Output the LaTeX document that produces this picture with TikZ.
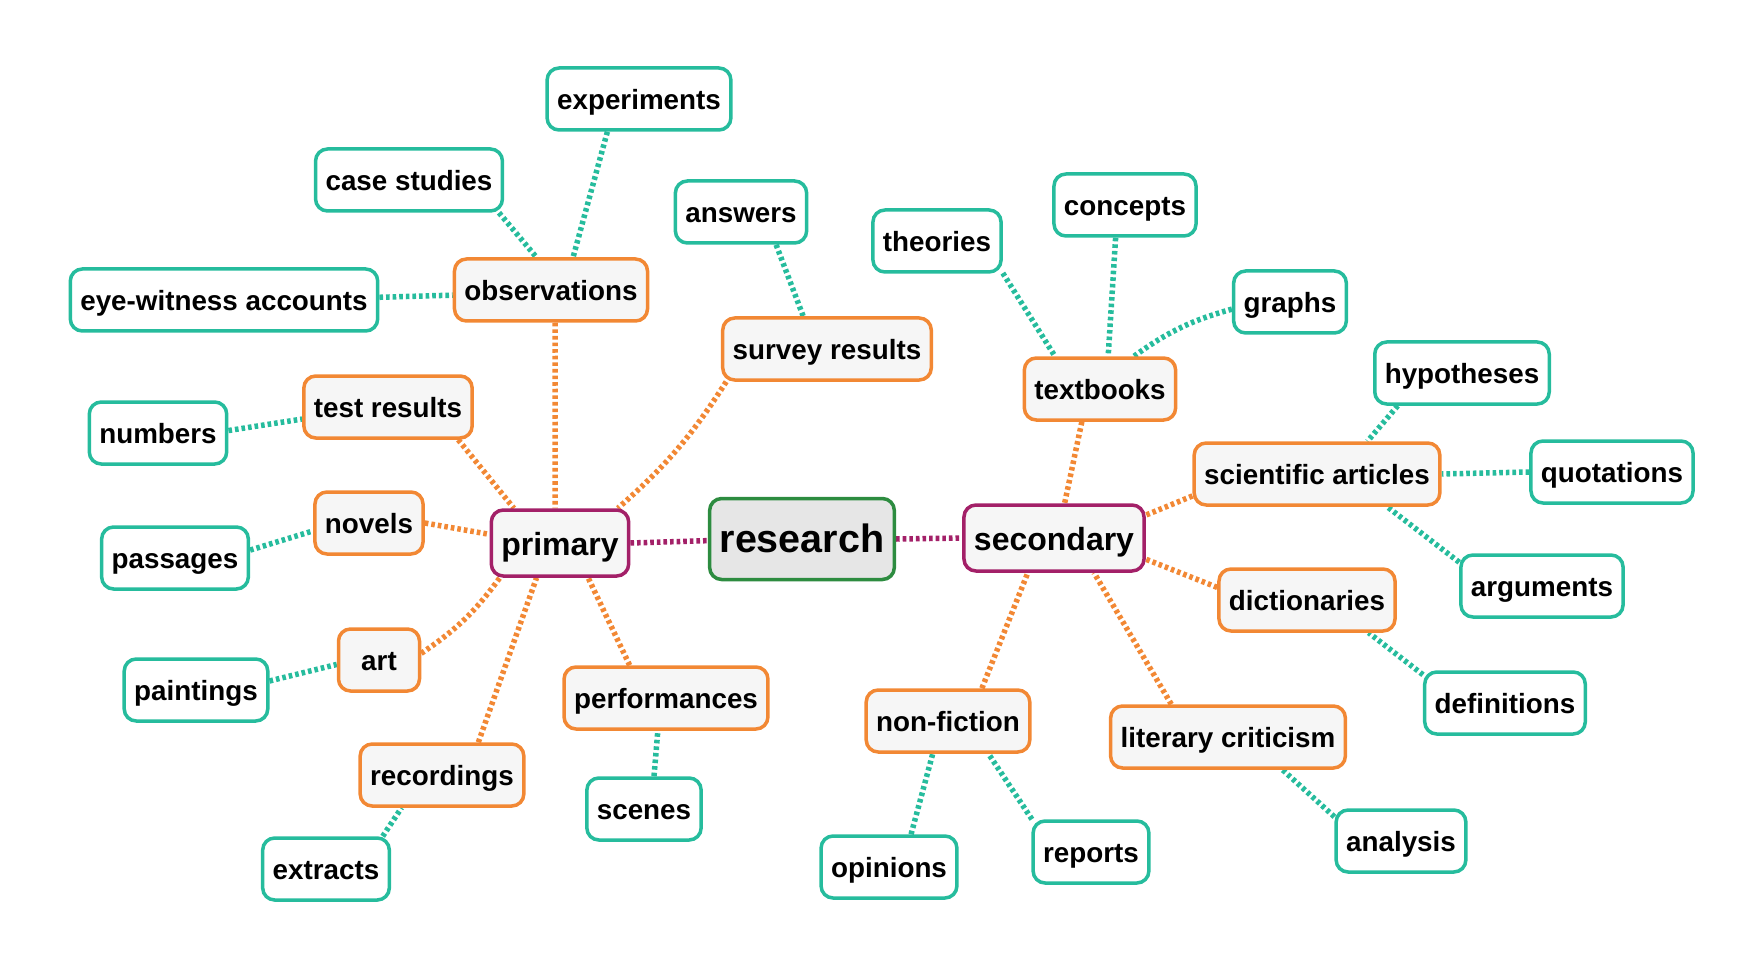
\documentclass[tikz,border=0pt]{standalone}
\usepackage{fontspec}
\setmainfont{Liberation Sans}
\usetikzlibrary{backgrounds}
\definecolor{cteal}{RGB}{38,188,157}
\definecolor{corange}{RGB}{242,136,52}
\definecolor{cpurple}{RGB}{163,32,104}
\definecolor{cgreen}{RGB}{45,140,64}
\definecolor{cfillA}{RGB}{246,246,246}
\definecolor{cfillR}{RGB}{230,230,230}
\tikzset{
  box/.style={rounded corners=12pt, line width=3.5pt, inner xsep=10pt, inner ysep=0pt,
    minimum height=62pt, text height=23.5pt, text depth=2.5pt,
    font=\bfseries\fontsize{27.8}{32}\selectfont},
  leaf/.style={box, draw=cteal, fill=white},
  mid/.style={box, draw=corange, fill=cfillA, minimum width=81pt},
  top/.style={box, draw=cpurple, fill=cfillA, minimum height=66pt, text height=27.5pt, text depth=2.5pt,
    font=\bfseries\fontsize{32}{36}\selectfont},
  root/.style={box, draw=cgreen, fill=cfillR, minimum height=81pt, text height=32.2pt, text depth=4.8pt,
    font=\bfseries\fontsize{39.5}{44}\selectfont},
  lnk/.style={line width=5.5pt, dash pattern=on 3.6pt off 3pt},
  lteal/.style={lnk, draw=cteal},
  lorange/.style={lnk, draw=corange},
  lpurple/.style={lnk, draw=cpurple},
}
\begin{document}
\begin{tikzpicture}[x=1pt,y=1pt]
\useasboundingbox (0,0) rectangle (1762,-968);
% root and level 1
\node[root] (res) at (802,-539) {research};
\node[top] (pri) at (560,-543) {primary};
\node[top] (sec) at (1054,-538) {secondary};
% primary branch
\node[mid] (obs) at (551,-290) {observations};
\node[leaf] (exp) at (639,-99) {experiments};
\node[leaf] (cs) at (409,-180) {case studies};
\node[leaf] (ew) at (224,-300) {eye-witness accounts};
\node[mid] (sr) at (827,-349) {survey results};
\node[leaf] (ans) at (741,-212) {answers};
\node[mid] (tr) at (388,-407) {test results};
\node[leaf] (num) at (158,-433) {numbers};
\node[mid] (nov) at (369,-523) {novels};
\node[leaf] (pas) at (175,-558) {passages};
\node[mid] (art) at (379,-660) {art};
\node[leaf] (pai) at (196,-690) {paintings};
\node[mid] (rec) at (442,-775) {recordings};
\node[leaf] (ext) at (326,-869) {extracts};
\node[mid] (perf) at (666,-698) {performances};
\node[leaf] (sce) at (644,-809) {scenes};
% secondary branch
\node[mid] (tb) at (1100,-389) {textbooks};
\node[leaf] (the) at (937,-241) {theories};
\node[leaf] (con) at (1125,-205) {concepts};
\node[leaf] (gra) at (1290,-302) {graphs};
\node[mid] (sa) at (1317,-474) {scientific articles};
\node[leaf] (hyp) at (1462,-373) {hypotheses};
\node[leaf] (quo) at (1612,-472) {quotations};
\node[leaf] (arg) at (1542,-586) {arguments};
\node[mid] (dic) at (1307,-600) {dictionaries};
\node[leaf] (def) at (1505,-703) {definitions};
\node[mid] (lc) at (1228,-737) {literary criticism};
\node[leaf] (ana) at (1401,-841) {analysis};
\node[mid] (nf) at (948,-721) {non-fiction};
\node[leaf] (opi) at (889,-867) {opinions};
\node[leaf] (rep) at (1091,-852) {reports};
\begin{scope}[on background layer]
% root links
\draw[lpurple] (pri.east) -- (res.181);
\draw[lpurple] (res.east) -- (sec.west);
% primary links
\draw[lorange] (obs.-83) -- (pri.98);
\draw[lorange] (sr.198) to[bend left=8] (pri.31);
\draw[lorange] (tr.-25.6) -- (pri.143.7);
\draw[lorange] (nov.0) -- (pri.173);
\draw[lorange] (art.9.7) to[bend right=10] (pri.210.8);
\draw[lorange] (rec.42.6) -- (pri.236.7);
\draw[lorange] (perf.138) -- (pri.-51.3);
\draw[lteal] (exp.-134) -- (obs.56);
\draw[lteal] (cs.-20.6) -- (obs.114.8);
\draw[lteal] (ew.1) -- (obs.183);
\draw[lteal] (ans.-43) -- (sr.126);
\draw[lteal] (num.2.4) -- (tr.188.4);
\draw[lteal] (pas.6.7) -- (nov.188.8);
\draw[lteal] (pai.7.6) -- (art.186.6);
\draw[lteal] (ext.30) -- (rec.219.7);
\draw[lteal] (sce.73) -- (perf.256.4);
% secondary links
\draw[lorange] (tb.-119) -- (sec.73);
\draw[lorange] (sa.190) -- (sec.14);
\draw[lorange] (dic.172) -- (sec.-13.6);
\draw[lorange] (lc.150.5) -- (sec.-41.8);
\draw[lorange] (nf.44) -- (sec.-127);
\draw[lteal] (the.-26) -- (tb.144);
\draw[lteal] (con.-106) -- (tb.76);
\draw[lteal] (gra.187.6) to[bend right=10] (tb.44);
\draw[lteal] (hyp.-153.1) -- (sa.33.4);
\draw[lteal] (quo.180.7) -- (sa.0.4);
\draw[lteal] (arg.164.7) -- (sa.-25.3);
\draw[lteal] (def.161) -- (dic.-28);
\draw[lteal] (ana.160) -- (lc.-31);
\draw[lteal] (opi.56) -- (nf.-115);
\draw[lteal] (rep.151) -- (nf.-39);
\end{scope}
\end{tikzpicture}
\end{document}
